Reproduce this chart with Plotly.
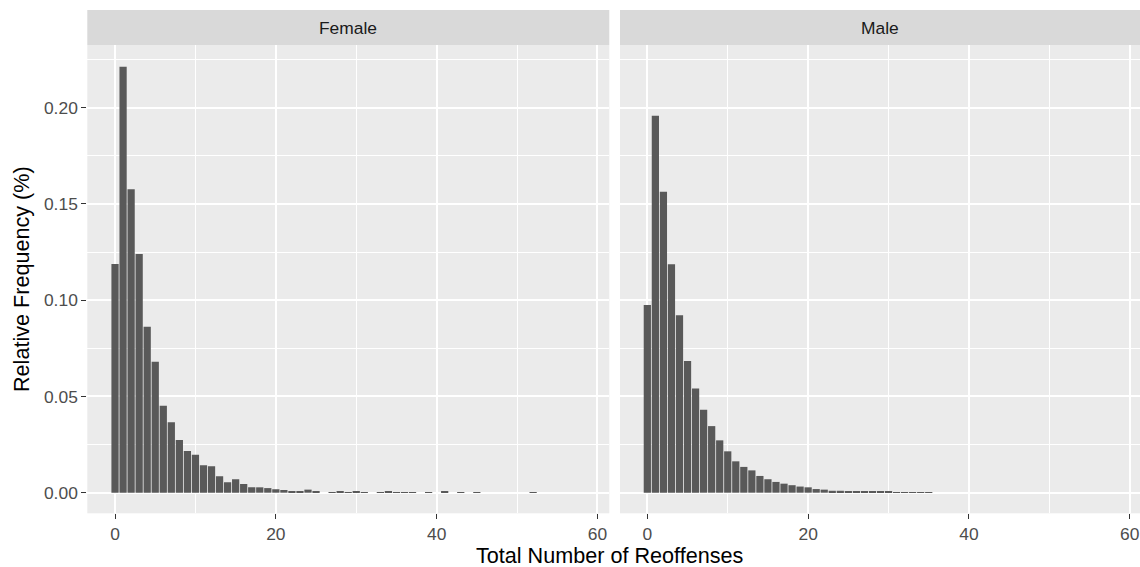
import plotly.graph_objects as go

# ---- data ----
reoffenses = list(range(0, 53))
female_freq = [0.1188, 0.2213, 0.1576, 0.1240, 0.0862, 0.0681, 0.0452, 0.0366, 0.0274, 0.0217,
               0.0197, 0.0142, 0.0137, 0.0085, 0.0054, 0.0070, 0.0045, 0.0028, 0.0028, 0.0024,
               0.0018, 0.0014, 0.0005, 0.0009, 0.0016, 0.0005, 0.0, 0.0003, 0.0008, 0.0003,
               0.0005, 0.0003, 0.0, 0.0002, 0.0005, 0.0002, 0.0002, 0.0002, 0.0, 0.0002,
               0.0, 0.0005, 0.0, 0.0002, 0.0, 0.0002, 0.0, 0.0, 0.0, 0.0,
               0.0, 0.0, 0.0002]
male_x = list(range(0, 36))
male_freq = [0.0975, 0.1958, 0.1564, 0.1187, 0.0922, 0.0684, 0.0542, 0.0431, 0.0346, 0.0272,
             0.0215, 0.0163, 0.0134, 0.0116, 0.0087, 0.0070, 0.0056, 0.0047, 0.0039, 0.0032,
             0.0028, 0.0019, 0.0016, 0.0010, 0.0010, 0.0007, 0.0007, 0.0007, 0.0005, 0.0005,
             0.0005, 0.0003, 0.0003, 0.0003, 0.0003, 0.0003]
panels = ["Female", "Male"]
x_ticks = [0, 20, 40, 60]
y_ticks = [0.00, 0.05, 0.10, 0.15, 0.20]
y_tick_labels = ["0.00", "0.05", "0.10", "0.15", "0.20"]

W, H = 1140, 567
FONT = "Liberation Sans, Arial, sans-serif"
BAR = "#595959"

def px(x):
    return x / W

def py(y):
    return (H - y) / H

fig = go.Figure()
fig.add_trace(go.Bar(x=reoffenses, y=female_freq, marker=dict(color=BAR, line=dict(width=0)),
                     xaxis="x", yaxis="y", showlegend=False))
fig.add_trace(go.Bar(x=male_x, y=male_freq, marker=dict(color=BAR, line=dict(width=0)),
                     xaxis="x2", yaxis="y2", showlegend=False))

left_dom = [px(87.3), px(609.3)]
right_dom = [px(620), 1.0]
y_dom = [py(513.3), py(45)]
unit = 8.04
left_range = [-3.45, -3.45 + (609.3 - 87.3) / unit]
right_range = [-3.4, -3.4 + (1140 - 620) / unit]
y_range = [-0.0107, 0.2326]

common_x = dict(
    tickmode="array", tickvals=x_ticks, ticktext=[str(v) for v in x_ticks],
    ticks="outside", ticklen=5, tickwidth=1.4, tickcolor="#333333",
    tickfont=dict(family=FONT, size=17.4, color="#4D4D4D"),
    showgrid=True, gridcolor="white", gridwidth=1.7, zeroline=False, showline=False,
    minor=dict(tickmode="array", tickvals=[10, 30, 50], showgrid=True, gridcolor="white",
               gridwidth=0.8, ticks=""),
)
common_y = dict(
    range=y_range, domain=y_dom,
    tickmode="array", tickvals=y_ticks, ticktext=y_tick_labels,
    showgrid=True, gridcolor="white", gridwidth=1.7, zeroline=False, showline=False,
    minor=dict(tickmode="array", tickvals=[0.025, 0.075, 0.125, 0.175, 0.225], showgrid=True,
               gridcolor="white", gridwidth=0.8, ticks=""),
)

fig.update_layout(
    width=W, height=H,
    margin=dict(l=0, r=0, t=0, b=0),
    paper_bgcolor="white", plot_bgcolor="#EBEBEB",
    bargap=0.1,
    xaxis=dict(domain=left_dom, range=left_range, anchor="y", **common_x),
    xaxis2=dict(domain=right_dom, range=right_range, anchor="y2", **common_x),
    yaxis=dict(anchor="x", ticks="outside", ticklen=5, tickwidth=1.4, tickcolor="#333333",
               tickfont=dict(family=FONT, size=17.4, color="#4D4D4D"), **common_y),
    yaxis2=dict(anchor="x2", showticklabels=False, ticks="", **common_y),
)

# facet strips
shapes = []
annotations = []
for name, dom in zip(panels, [left_dom, right_dom]):
    shapes.append(dict(type="rect", xref="paper", yref="paper", x0=dom[0], x1=dom[1],
                       y0=py(45), y1=py(10), fillcolor="#D9D9D9", line=dict(width=0), layer="below"))
    annotations.append(dict(text=name, xref="paper", yref="paper", x=(dom[0] + dom[1]) / 2,
                            y=py(27.5), showarrow=False, xanchor="center", yanchor="middle",
                            font=dict(family=FONT, size=17.4, color="#1A1A1A")))

annotations.append(dict(text="Total Number of Reoffenses", xref="paper", yref="paper",
                        x=px(609), y=py(555), showarrow=False, xanchor="center", yanchor="middle",
                        font=dict(family=FONT, size=21.6, color="black")))
annotations.append(dict(text="Relative Frequency (%)", xref="paper", yref="paper",
                        x=px(21), y=py(279), showarrow=False, xanchor="center", yanchor="middle",
                        textangle=-90, font=dict(family=FONT, size=21.6, color="black")))
fig.update_layout(shapes=shapes, annotations=annotations)

fig.write_html("out.html")
